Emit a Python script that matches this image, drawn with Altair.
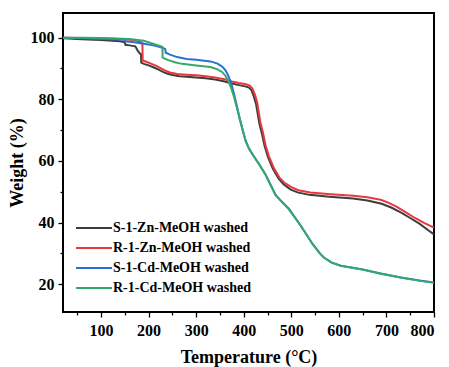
import altair as alt
import pandas as pd

series_names = ["S-1-Zn-MeOH washed", "R-1-Zn-MeOH washed",
                "S-1-Cd-MeOH washed", "R-1-Cd-MeOH washed"]
series_colors = ["#3d3d3d", "#e8383d", "#2a6fd6", "#35a86a"]

s_zn_T = [20, 60, 100, 140, 150, 151, 160, 172, 177, 182, 184, 184.5, 190, 200, 210, 220, 230,
          240, 250, 265, 280, 300, 320, 340, 360, 375, 390, 403, 411, 416, 421, 426, 433, 438,
          444, 451, 461, 473, 483, 498, 513, 538, 580, 630, 660, 690, 710, 730, 750, 770, 790, 800]
s_zn_W = [99.8, 99.5, 99.2, 98.8, 98.5, 97.7, 97.5, 97.2, 95.8, 94.8, 94.6, 91.9, 91.5, 91.0, 90.4,
          89.7, 88.9, 88.3, 87.9, 87.5, 87.3, 87.1, 86.8, 86.4, 85.8, 85.1, 84.6, 84.2, 83.8, 83.0,
          81.0, 78.4, 72.0, 69.0, 64.8, 61.2, 57.5, 54.3, 52.5, 50.8, 49.8, 49.0, 48.4, 47.8, 47.2,
          46.1, 44.9, 43.3, 41.5, 39.6, 37.3, 36.2]

r_zn_T = [20, 60, 100, 140, 170, 180, 186, 187, 187.5, 195, 205, 215, 225, 235, 245, 260, 280,
          300, 320, 340, 360, 375, 390, 405, 413, 418, 423, 428, 435, 440, 446, 453, 463, 475,
          485, 500, 515, 540, 583, 630, 660, 688, 705, 723, 740, 760, 780, 800]
r_zn_W = [100.0, 99.9, 99.8, 99.6, 99.2, 98.8, 98.4, 98.2, 92.6, 92.2, 91.6, 90.9, 90.1, 89.3,
          88.7, 88.2, 88.0, 87.8, 87.5, 87.1, 86.5, 85.8, 85.3, 84.9, 84.4, 83.6, 81.8, 79.2, 72.5,
          69.5, 65.0, 61.5, 57.8, 54.6, 53.0, 51.5, 50.5, 49.8, 49.2, 48.7, 48.2, 47.4, 46.4, 45.0,
          43.4, 41.5, 39.8, 38.4]

s_cd_T = [20, 60, 100, 140, 150, 151, 170, 190, 210, 228, 235, 236, 245, 260, 280, 300, 330, 345,
          355, 362, 368, 374, 380, 386, 392, 397, 404, 411, 420, 432, 446, 456, 467, 477, 495, 520,
          545, 560, 569, 585, 604, 650, 688, 730, 770, 800]
s_cd_W = [100.0, 99.8, 99.6, 99.4, 99.3, 98.8, 98.5, 98.0, 97.5, 96.8, 96.3, 95.1, 94.5, 93.7,
          93.1, 92.8, 92.3, 91.6, 90.6, 89.3, 87.5, 85.0, 81.5, 77.5, 73.5, 70.5, 66.5, 64.0, 61.8,
          59.0, 55.5, 52.5, 49.0, 47.3, 44.5, 39.0, 33.0, 30.0, 28.6, 27.0, 26.0, 24.8, 23.5, 22.2,
          21.2, 20.6]

r_cd_T = [20, 60, 100, 160, 190, 214, 228, 229, 229.5, 240, 255, 270, 300, 330, 345, 355, 362,
          368, 374, 380, 386, 392, 397, 404, 411, 420, 432, 446, 456, 467, 477, 495, 520, 545, 560,
          569, 585, 604, 650, 688, 730, 770, 800]
r_cd_W = [100.0, 100.0, 99.9, 99.6, 99.0, 97.8, 97.1, 97.0, 93.5, 92.8, 92.0, 91.5, 91.0, 90.5,
          89.7, 88.8, 87.5, 85.8, 83.5, 80.5, 77.0, 73.3, 70.4, 66.5, 64.0, 61.8, 59.0, 55.5, 52.3,
          48.9, 47.2, 44.3, 38.9, 33.0, 30.0, 28.6, 27.0, 26.0, 24.8, 23.4, 22.2, 21.1, 20.5]

x_ticks = [50, 100, 150, 200, 250, 300, 350, 400, 450, 500, 550, 600, 650, 700, 750, 800]
y_ticks = [20, 30, 40, 50, 60, 70, 80, 90, 100]

rows = []
for name, T, W in zip(series_names, [s_zn_T, r_zn_T, s_cd_T, r_cd_T],
                      [s_zn_W, r_zn_W, s_cd_W, r_cd_W]):
    for i, (t, w) in enumerate(zip(T, W)):
        rows.append({"series": name, "T": t, "W": w, "order": i})
df = pd.DataFrame(rows)

FONT = "Liberation Serif"

x_axis = alt.Axis(
    values=x_ticks,
    labelExpr="datum.value % 100 === 0 ? datum.label : ''",
    title="Temperature (°C)",
    grid=False, domain=False,
    tickColor="black", tickWidth=1.3,
    tickSize={"condition": {"test": "datum.value % 100 === 0", "value": 5}, "value": 3},
    labelFont=FONT, labelFontSize=16, labelFontWeight="bold", labelColor="black",
    labelPadding=5,
    titleFont=FONT, titleFontSize=18, titleFontWeight="bold", titleColor="black",
    titlePadding=10,
)
y_axis = alt.Axis(
    values=y_ticks,
    labelExpr="datum.value % 20 === 0 ? datum.label : ''",
    title="Weight (%)",
    grid=False, domain=False,
    tickColor="black", tickWidth=1.3,
    tickSize={"condition": {"test": "datum.value % 20 === 0", "value": 5}, "value": 3},
    labelFont=FONT, labelFontSize=16, labelFontWeight="bold", labelColor="black",
    labelPadding=4,
    titleFont=FONT, titleFontSize=18, titleFontWeight="bold", titleColor="black",
    titlePadding=4,
)

chart = alt.Chart(df).mark_line(strokeWidth=2, clip=True).encode(
    x=alt.X("T:Q", scale=alt.Scale(domain=[20, 800], nice=False, zero=False), axis=x_axis),
    y=alt.Y("W:Q", scale=alt.Scale(domain=[11, 108], nice=False, zero=False), axis=y_axis),
    color=alt.Color("series:N",
                    scale=alt.Scale(domain=series_names, range=series_colors),
                    sort=series_names,
                    legend=alt.Legend(
                        title=None, orient="none", legendX=24, legendY=208, padding=0,
                        symbolType="M-3,0L3,0", symbolSize=144, symbolStrokeWidth=2,
                        labelFont=FONT, labelFontSize=14, labelFontWeight="bold",
                        labelColor="black", labelOffset=12, rowPadding=6,
                    )),
    order="order:Q",
).properties(
    width=371, height=299,
    autosize=alt.AutoSizeParams(type="none"),
    padding={"left": 63, "top": 13, "right": 15, "bottom": 55},
    background="white",
).configure_view(
    stroke="black", strokeWidth=2
)

chart.save("out.html", embed_options={"renderer": "svg", "actions": False})
